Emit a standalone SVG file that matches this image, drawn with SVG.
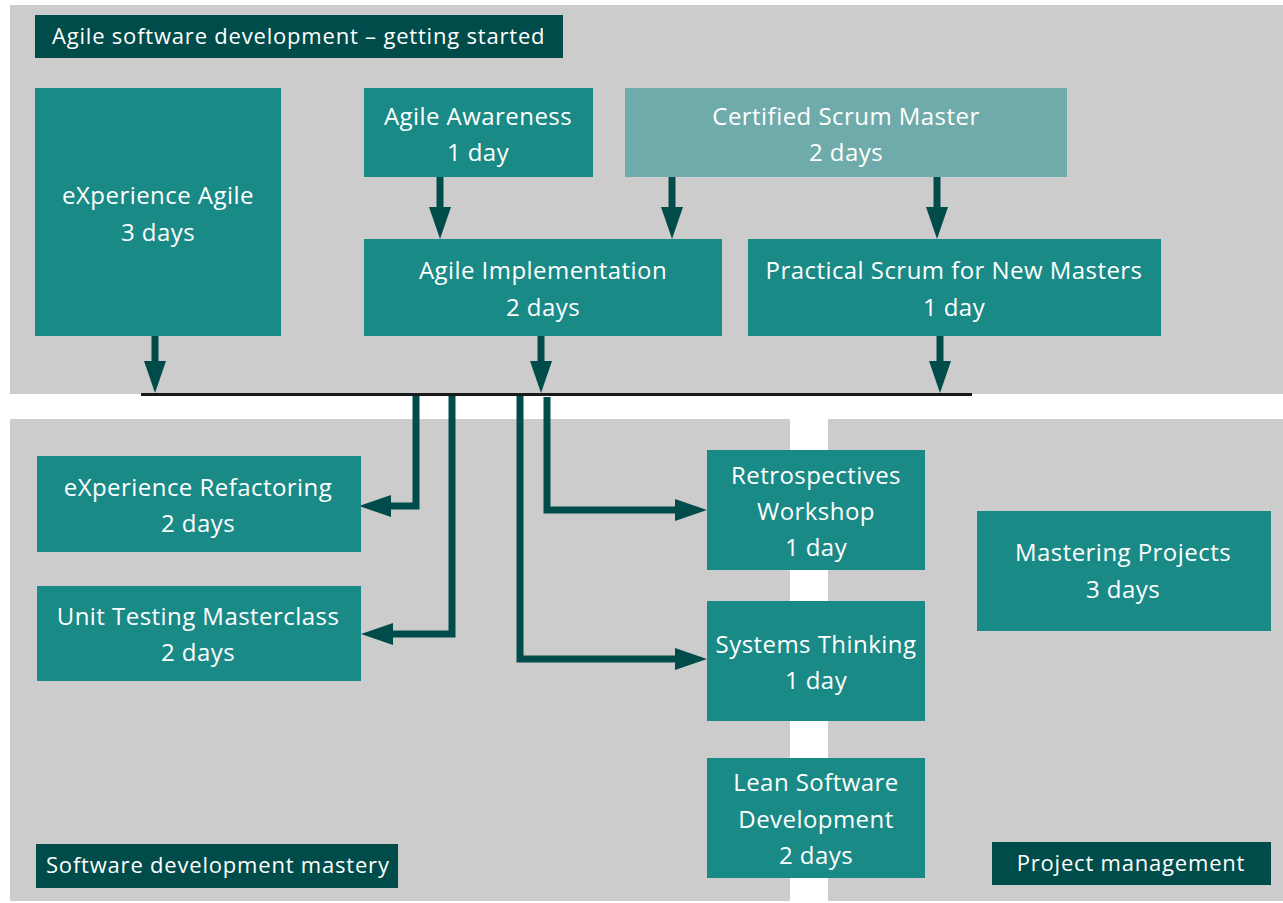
<svg xmlns="http://www.w3.org/2000/svg" width="1283" height="903" viewBox="0 0 1283 903">
<defs>
<style>
.panel{fill:#cccccc}
.node{fill:#1a8a87}
.light{fill:#70abab}
.label{fill:#004c4a}
.t{font-family:"Open Sans","Liberation Sans",sans-serif;font-size:24px;letter-spacing:0.45px;fill:#ffffff;text-anchor:middle}
.lt{font-family:"Open Sans","Liberation Sans",sans-serif;font-size:22px;letter-spacing:0.8px;fill:#ffffff}
.conn{fill:none;stroke:#004c4a;stroke-width:7;stroke-linejoin:miter;stroke-linecap:butt}
</style>
<marker id="ah" markerUnits="userSpaceOnUse" markerWidth="32" markerHeight="22" refX="12" refY="11" orient="auto" viewBox="0 0 32 22">
<path d="M0,0 L32,11 L0,22 Z" fill="#004c4a"/>
</marker>
</defs>
<rect width="1283" height="903" fill="#ffffff"/>
<g id="panels">
<rect class="panel" x="10" y="5" width="1273" height="389"/>
<rect class="panel" x="10" y="419" width="780" height="482"/>
<rect class="panel" x="828" y="419" width="455" height="482"/>
</g>
<g id="title">
<rect class="label" x="35" y="15" width="528" height="43"/>
<text class="lt" x="52" y="44">Agile software development – getting started</text>
</g>
<g id="label-sdm">
<rect class="label" x="36" y="844" width="362" height="44"/>
<text class="lt" x="46" y="873">Software development mastery</text>
</g>
<g id="label-pm">
<rect class="label" x="992" y="842" width="279" height="43"/>
<text class="lt" x="1131" y="871" text-anchor="middle">Project management</text>
</g>
<g id="connectors">
<line x1="141" y1="394.5" x2="972" y2="394.5" stroke="#1a1a1a" stroke-width="3"/>
<path class="conn" d="M155,336 V373" marker-end="url(#ah)"/>
<path class="conn" d="M541,336 V373" marker-end="url(#ah)"/>
<path class="conn" d="M940,336 V373" marker-end="url(#ah)"/>
<path class="conn" d="M440,177 V219" marker-end="url(#ah)"/>
<path class="conn" d="M672,177 V219" marker-end="url(#ah)"/>
<path class="conn" d="M937,177 V219" marker-end="url(#ah)"/>
<path class="conn" d="M416,396 V506 H379" marker-end="url(#ah)"/>
<path class="conn" d="M452,396 V634 H381" marker-end="url(#ah)"/>
<path class="conn" d="M520,396 V659 H687" marker-end="url(#ah)"/>
<path class="conn" d="M547,397 V510 H687" marker-end="url(#ah)"/>
</g>
<g id="experience-agile">
<rect class="node" x="35" y="88" width="246" height="248"/>
<text class="t" x="158" y="204">eXperience Agile</text>
<text class="t" x="158" y="241">3 days</text>
</g>
<g id="agile-awareness">
<rect class="node" x="364" y="88" width="229" height="89"/>
<text class="t" x="478" y="125">Agile Awareness</text>
<text class="t" x="478" y="161">1 day</text>
</g>
<g id="certified-scrum-master">
<rect class="light" x="625" y="88" width="442" height="89"/>
<text class="t" x="846" y="125">Certified Scrum Master</text>
<text class="t" x="846" y="161">2 days</text>
</g>
<g id="agile-implementation">
<rect class="node" x="364" y="239" width="358" height="97"/>
<text class="t" x="543" y="279">Agile Implementation</text>
<text class="t" x="543" y="316">2 days</text>
</g>
<g id="practical-scrum">
<rect class="node" x="748" y="239" width="413" height="97"/>
<text class="t" x="954" y="279">Practical Scrum for New Masters</text>
<text class="t" x="954" y="316">1 day</text>
</g>
<g id="experience-refactoring">
<rect class="node" x="37" y="456" width="324" height="96"/>
<text class="t" x="198" y="496">eXperience Refactoring</text>
<text class="t" x="198" y="532">2 days</text>
</g>
<g id="unit-testing">
<rect class="node" x="37" y="586" width="324" height="95"/>
<text class="t" x="198" y="625">Unit Testing Masterclass</text>
<text class="t" x="198" y="661">2 days</text>
</g>
<g id="retrospectives">
<rect class="node" x="707" y="450" width="218" height="120"/>
<text class="t" x="816" y="484">Retrospectives</text>
<text class="t" x="816" y="520">Workshop</text>
<text class="t" x="816" y="556">1 day</text>
</g>
<g id="systems-thinking">
<rect class="node" x="707" y="601" width="218" height="120"/>
<text class="t" x="816" y="653">Systems Thinking</text>
<text class="t" x="816" y="689">1 day</text>
</g>
<g id="lean-software">
<rect class="node" x="707" y="758" width="218" height="120"/>
<text class="t" x="816" y="791">Lean Software</text>
<text class="t" x="816" y="828">Development</text>
<text class="t" x="816" y="864">2 days</text>
</g>
<g id="mastering-projects">
<rect class="node" x="977" y="511" width="294" height="120"/>
<text class="t" x="1123" y="561">Mastering Projects</text>
<text class="t" x="1123" y="598">3 days</text>
</g>
</svg>
